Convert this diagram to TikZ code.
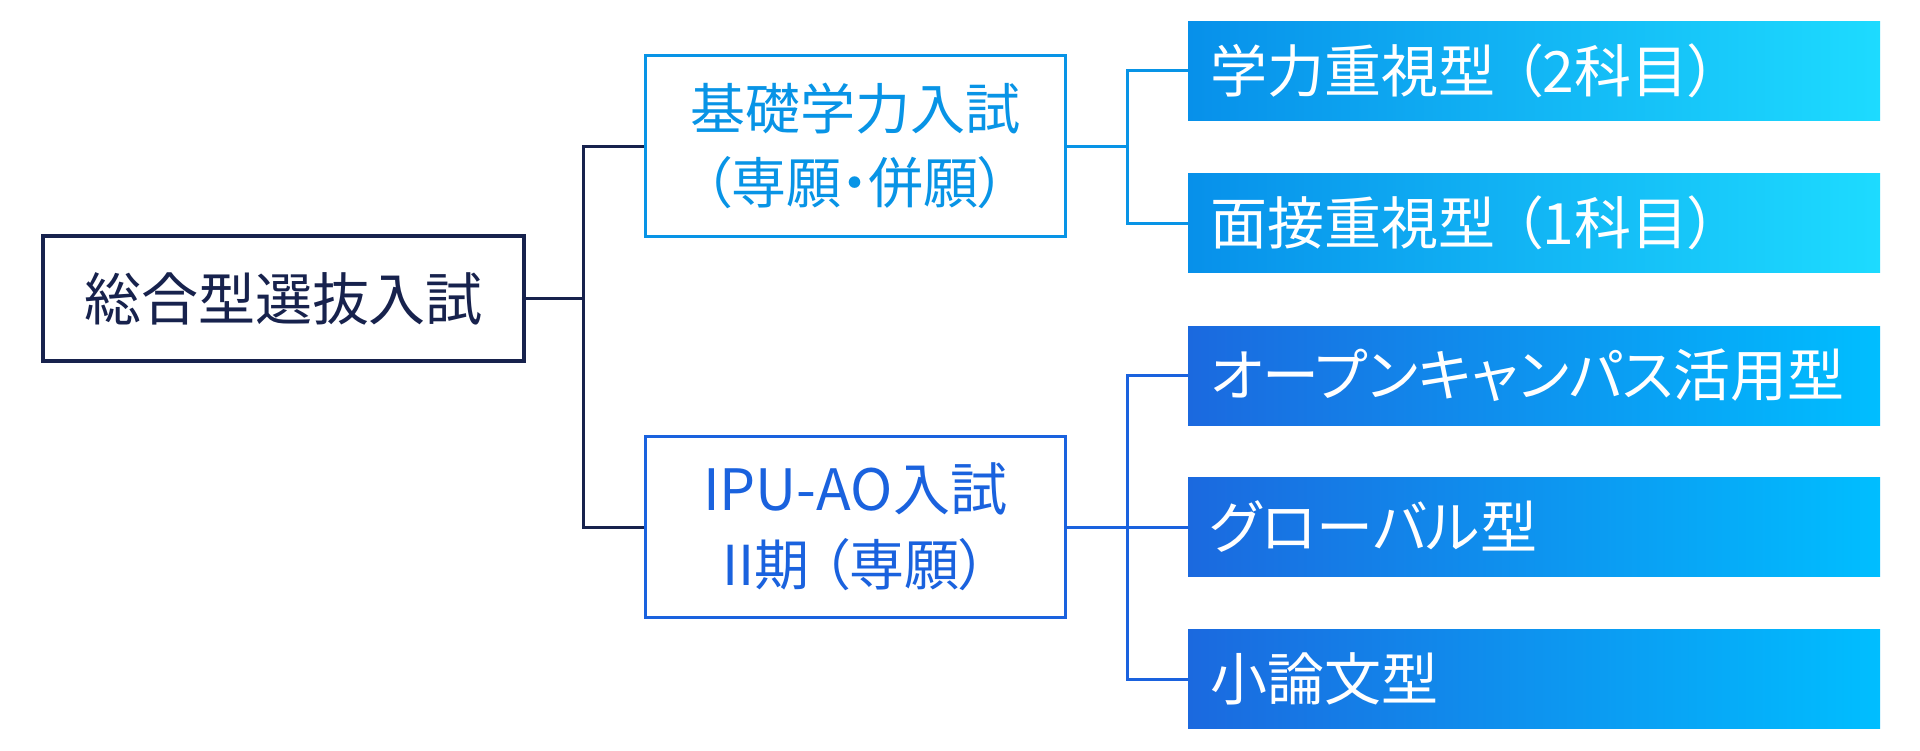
\documentclass[tikz,border=0pt]{standalone}
\usepackage{fontspec}
\newfontfamily\jp{Noto Sans CJK JP}[CharacterWidth=AlternateProportional]
\definecolor{navy}{HTML}{17224D}
\definecolor{ltblue}{HTML}{0894E6}
\definecolor{royal}{HTML}{1A62DE}
\definecolor{gaL}{HTML}{0790EA}
\definecolor{gaR}{HTML}{1DDBFF}
\definecolor{gbL}{HTML}{1B69DF}
\definecolor{gbR}{HTML}{00BEFF}
\tikzset{
  x=1pt, y=-1pt,
  mainbox/.style={draw=navy, line width=3.5pt, minimum width=481pt, minimum height=125pt,
    text=navy, font=\jp\fontsize{57pt}{60pt}\selectfont, inner sep=0pt},
  midbox/.style={draw=#1, line width=3pt, minimum width=420pt, minimum height=181pt,
    text=#1, align=center, inner sep=0pt, fill=white},
  catbox/.style={minimum height=99pt, text width=648pt, inner xsep=22pt, inner ysep=0pt,
    align=left, text=white, shading=axis, shading angle=90, font=\jp\fontsize{57pt}{60pt}\selectfont},
  groupa/.style={catbox, left color=gaL, right color=gaR},
  groupb/.style={catbox, left color=gbL, right color=gbR},
  conn/.style={draw=#1, line width=3pt},
}
\begin{document}
\begin{tikzpicture}
\useasboundingbox (0,0) rectangle (1920,750);
\fill[white] (0,0) rectangle (1920,750);

\node[midbox=ltblue] (top) at (855,146)
  {\jp\fontsize{55pt}{60pt}\selectfont 基礎学力入試\\[22pt]
   \jp\fontsize{55pt}{60pt}\selectfont （専願・併願）};
\node[midbox=royal] (bot) at (855,527)
  {\jp\fontsize{57pt}{60pt}\selectfont IPU-AO入試\\[22pt]
   \jp\fontsize{55pt}{60pt}\selectfont II期 （専願）};
\node[mainbox] (main) at (283.5,298.5) {総合型選抜入試};

\node[groupa] (r1) at (1534,70.5) {学力重視型 （2科目）};
\node[groupa] (r2) at (1534,223) {面接重視型 （1科目）};
\node[groupb] (r3) at (1534,375.5) {オープンキャンパス活用型};
\node[groupb] (r4) at (1534,527) {グローバル型};
\node[groupb] (r5) at (1534,679) {小論文型};

\coordinate (j1) at (583,298.5);
\coordinate (j2) at (1127,146);
\coordinate (j3) at (1127,527);

\draw[conn=navy] (main.east) -- (j1);
\draw[conn=navy] (top.west) -| (j1) |- (bot.west);
\draw[conn=ltblue] (top.east) -- (j2);
\draw[conn=ltblue] (r1.west) -| (j2) |- (r2.west);
\draw[conn=royal] (bot.east) -- (r4.west);
\draw[conn=royal] (r3.west) -| (j3) |- (r5.west);
\end{tikzpicture}
\end{document}
